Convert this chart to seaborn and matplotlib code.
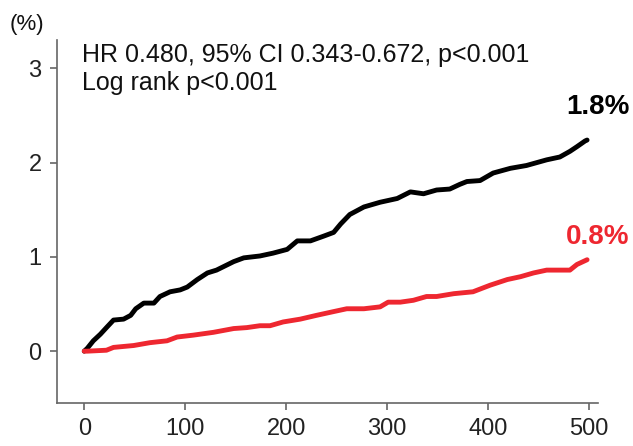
import matplotlib
matplotlib.use("Agg")
import matplotlib.pyplot as plt
import seaborn as sns
import pandas as pd

# Control group (black) - cumulative incidence (%) by day
days_ctrl = [0, 3, 9, 16, 22, 29, 39, 46, 51, 59, 69, 75, 85, 95, 102, 112, 122, 131, 148, 158, 174, 187,
             201, 211, 224, 237, 247, 254, 263, 277, 293, 310, 323, 336, 349, 362, 372, 379, 392, 405, 422,
             438, 458, 471, 481, 488, 496, 498]
inc_ctrl = [0.0, 0.03, 0.11, 0.18, 0.25, 0.33, 0.34, 0.38, 0.45, 0.51, 0.51, 0.58, 0.63, 0.65, 0.68, 0.76,
            0.83, 0.86, 0.95, 0.99, 1.01, 1.04, 1.08, 1.17, 1.17, 1.22, 1.26, 1.35, 1.45, 1.53, 1.58, 1.62,
            1.69, 1.67, 1.71, 1.72, 1.77, 1.80, 1.81, 1.89, 1.94, 1.97, 2.03, 2.06, 2.12, 2.17, 2.23, 2.24]

# Treatment group (red)
days_trt = [0, 3, 22, 29, 49, 65, 82, 92, 108, 128, 148, 161, 174, 184, 197, 214, 230, 247, 260, 277, 293,
            301, 313, 326, 339, 349, 366, 385, 402, 419, 432, 445, 458, 481, 488, 498]
inc_trt = [0.0, 0.0, 0.01, 0.04, 0.06, 0.09, 0.11, 0.15, 0.17, 0.20, 0.24, 0.25, 0.27, 0.27, 0.31, 0.34, 0.38,
           0.42, 0.45, 0.45, 0.47, 0.52, 0.52, 0.54, 0.58, 0.58, 0.61, 0.63, 0.70, 0.76, 0.79, 0.83, 0.86,
           0.86, 0.92, 0.97]

final_labels = ["1.8%", "0.8%"]
xticks = [0, 100, 200, 300, 400, 500]
yticks = [0, 1, 2, 3]

df = pd.concat([
    pd.DataFrame({"day": days_ctrl, "inc": inc_ctrl, "grp": "Control"}),
    pd.DataFrame({"day": days_trt, "inc": inc_trt, "grp": "Treatment"}),
])

RED = "#ee2730"

sns.set_theme(style="white")
plt.rcParams["font.family"] = ["Liberation Sans", "DejaVu Sans"]

fig = plt.figure(figsize=(6.33, 4.46), dpi=100)
ax = fig.add_axes([0.090, 0.0964, 0.855, 0.8136])

sns.lineplot(data=df, x="day", y="inc", hue="grp", palette={"Control": "black", "Treatment": RED},
             linewidth=3.5, legend=False, ax=ax, estimator=None, sort=False)

ax.set_xlim(-27, 509)
ax.set_ylim(-0.55, 3.3)
ax.set_xticks(xticks)
ax.set_yticks(yticks)
ax.set_xlabel("")
ax.set_ylabel("")
for s in ["top", "right"]:
    ax.spines[s].set_visible(False)
for s in ["left", "bottom"]:
    ax.spines[s].set_color("#666666")
    ax.spines[s].set_linewidth(1.2)
ax.tick_params(axis="both", direction="out", length=5, width=1.2, color="#666666",
               labelsize=17, labelcolor="#222222", pad=6, left=True, bottom=True)

ax.text(-2, 3.14, "HR 0.480, 95% CI 0.343-0.672, p<0.001", fontsize=18, color="#111111", va="center")
ax.text(-2, 2.84, "Log rank p<0.001", fontsize=18, color="#111111", va="center")
fig.text(0.015, 0.945, "(%)", fontsize=16, color="#111111", va="center")

ax.text(540, 2.59, final_labels[0], fontsize=20, fontweight="bold", color="black",
        ha="right", va="center", clip_on=False)
ax.text(540, 1.215, final_labels[1], fontsize=20, fontweight="bold", color=RED,
        ha="right", va="center", clip_on=False)

fig.savefig("out.png", dpi=100)
